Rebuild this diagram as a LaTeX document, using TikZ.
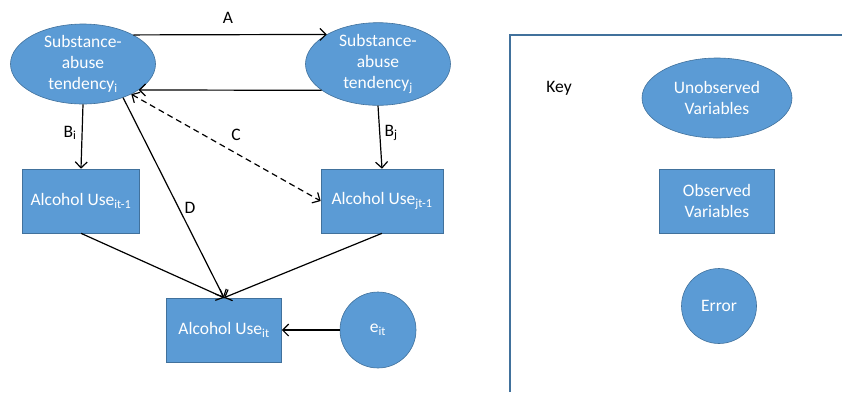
\documentclass[tikz,border=0pt]{standalone}
\usepackage{fontspec}
\setmainfont{Carlito}
\usepackage{tikz}
\usetikzlibrary{arrows.meta, shapes.geometric}
\definecolor{varfill}{HTML}{5B9BD5}
\definecolor{varline}{HTML}{41719C}
\tikzset{
  latent/.style={ellipse, fill=varfill, draw=varline, line width=0.6pt, text=white, align=center, inner sep=0pt, minimum width=145, minimum height=70},
  observed/.style={rectangle, fill=varfill, draw=varline, line width=0.6pt, text=white, align=center, inner sep=0pt, minimum width=117, minimum height=64},
  errorvar/.style={circle, fill=varfill, draw=varline, line width=0.6pt, text=white, align=center, inner sep=0pt, minimum size=76},
  path/.style={->, >={Straight Barb[length=6pt,width=12pt]}, line width=1.2pt},
  plabel/.style={text=black}
}
\begin{document}
\begin{tikzpicture}[x=1pt, y=-1pt, font=\fontsize{17.5}{20.8}\selectfont]
            \useasboundingbox (0,0) rectangle (842,392);
            \node[latent] (ui) at (83,64) {Substance-\\abuse\\tendency\textsubscript{i}}; %傾向i
            \node[latent] (uj) at (378,64) {Substance-\\abuse\\tendency\textsubscript{j}}; %傾向j
            \node[observed] (oi) at (81,201) {Alcohol Use\textsubscript{it-1}};
            \node[observed, minimum width=122] (oj) at (382,201) {Alcohol Use\textsubscript{jt-1}};
            \node[observed, minimum width=115] (ot) at (224,330) {Alcohol Use\textsubscript{it}};
            \node[errorvar] (e) at (378,330) {e\textsubscript{it}}; %誤差
            \draw[path] (ui.30) -- (uj.150); %A
            \draw[path] (uj.205) -- (ui.-25);
            \draw[path] (ui.south) -- (oi.north); %B
            \draw[path] (uj.south) -- (oj.north);
            \draw[path, <->, dash pattern=on 6pt off 4pt] (ui.-32) -- (oj.west); %C
            \draw[path] (ui.-40) -- (ot.north); %D
            \draw[path] (oi.south) -- (ot.north);
            \draw[path] (oj.south) -- (ot.north);
            \draw[path] (e.west) -- (ot.east);
            \node[plabel] (lA) at (228,18) {A};
            \node[plabel] (lBi) at (70,133) {B\textsubscript{i}};
            \node[plabel] (lBj) at (391,133) {B\textsubscript{j}};
            \node[plabel] (lC) at (236,135) {C};
            \node[plabel] (lD) at (190,208) {D};
            % 凡例
            \draw[varline, line width=1.2pt] (510,392) -- (510,35) -- (842,35);
            \node[plabel] (key) at (559,88) {Key};
            \node[latent, minimum width=150, minimum height=80] (kl) at (717,98) {Unobserved\\Variables};
            \node[observed, minimum width=115] (ko) at (717,201) {Observed\\Variables};
            \node[errorvar, minimum size=75] (ke) at (719,306) {Error};
        \end{tikzpicture}
\end{document}
